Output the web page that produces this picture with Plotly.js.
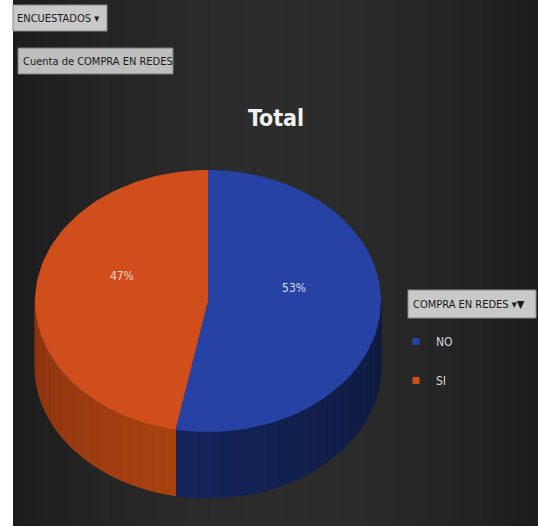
<!DOCTYPE html>
<html>
<head>
<meta charset="utf-8">
<script src="https://cdn.plot.ly/plotly-3.0.1.min.js"></script>
<style>html,body{margin:0;padding:0;background:#fff;}#chart{width:538px;height:526px;}</style>
</head>
<body>
<div id="chart"></div>
<script>
// ---- data ----
const categories = ['NO', 'SI'];
const values = [53, 47];
const legendTitle = 'COMPRA EN REDES';
const chartTitle = 'Total';
const filterLabel = 'ENCUESTADOS';
const fieldLabel = 'Cuenta de COMPRA EN REDES';

// ---- styles ----
const topColors = ['#2642a4', '#cf4e1b'];
const sideColorsFrom = ['#0f1a3c', '#aa4211'];   // colour at slice start angle
const sideColorsTo = ['#14245c', '#8a3311'];     // colour at slice end angle
const labelColors = ['#d4dbf5', '#f3d6c8'];
const FONT = '"DejaVu Sans Condensed", "DejaVu Sans", sans-serif';

// geometry of the 3D pie (pixel space of the hidden axes)
const cx = 208, cy = 301, rx = 173, ry = 131, depth = 66;

function pt(deg, dy) {
  const t = deg * Math.PI / 180;
  return [cx + rx * Math.sin(t), cy - ry * Math.cos(t) + dy];
}
function arc(a, b, dy) {
  const pts = [];
  const n = Math.max(2, Math.ceil(Math.abs(b - a) / 2));
  for (let k = 0; k <= n; k++) pts.push(pt(a + (b - a) * k / n, dy));
  return pts;
}
function hex2rgb(h) { return [1, 3, 5].map(i => parseInt(h.substr(i, 2), 16)); }
function mix(c1, c2, f) {
  const a = hex2rgb(c1), b = hex2rgb(c2);
  return 'rgb(' + a.map((v, i) => Math.round(v + (b[i] - v) * f)).join(',') + ')';
}

const total = values.reduce((s, v) => s + v, 0);
const sideTraces = [], topTraces = [];
const labX = [], labY = [], labT = [];
let start = 0;
values.forEach((v, i) => {
  const sweep = v / total * 360;
  const a = start, b = start + sweep;
  // side wall (front-visible part: 90..270 deg), shaded in bands
  const s = Math.max(a, 90), e = Math.min(b, 270);
  if (e > s) {
    const nb = Math.ceil((e - s) / 4);
    for (let k = 0; k < nb; k++) {
      const s1 = s + (e - s) * k / nb, e1 = s + (e - s) * (k + 1) / nb;
      const up = arc(s1, e1, 0), down = arc(e1, s1, depth);
      const poly = up.concat(down);
      poly.push(up[0]);
      const col = mix(sideColorsFrom[i], sideColorsTo[i], (k + 0.5) / nb);
      sideTraces.push({
        type: 'scatter', mode: 'lines', fill: 'toself',
        x: poly.map(p => p[0]), y: poly.map(p => p[1]),
        line: {width: 1, color: col}, fillcolor: col,
        showlegend: false, hoverinfo: 'skip'
      });
    }
  }
  // top face
  const topPts = [[cx, cy]].concat(arc(a, b, 0));
  topPts.push([cx, cy]);
  topTraces.push({
    type: 'scatter', mode: 'lines', fill: 'toself',
    x: topPts.map(p => p[0]), y: topPts.map(p => p[1]),
    line: {width: 0, color: topColors[i]}, fillcolor: topColors[i],
    showlegend: false, hoverinfo: 'skip'
  });
  const mid = (a + b) / 2;
  const lp = pt(mid, 0);
  labX.push(cx + (lp[0] - cx) * 0.5);
  labY.push(cy + (lp[1] - cy) * 0.5 - 18);
  labT.push(Math.round(v / total * 100) + '%');
  start = b;
});
const traces = [...sideTraces, ...topTraces];
traces.push({
  type: 'scatter', mode: 'text', x: labX, y: labY, text: labT,
  textfont: {family: FONT, size: 12, color: labelColors},
  showlegend: false, hoverinfo: 'skip'
});
categories.forEach((c, i) => {
  traces.push({
    type: 'scatter', mode: 'markers', x: [null], y: [null], name: c,
    legendgroup: c,
    marker: {symbol: 'square', size: 7, color: topColors[i]}
  });
});

// background: horizontal gradient in vertical bands
const shapes = [];
const nBands = 48;
for (let k = 0; k < nBands; k++) {
  const x0 = 13 + (538 - 13) * k / nBands, x1 = 13 + (538 - 13) * (k + 1) / nBands + 0.5;
  const f = Math.abs(((k + 0.5) / nBands) - 0.5) * 2; // 0 centre, 1 edge
  shapes.push({type: 'rect', xref: 'x', yref: 'y', x0: x0, x1: x1, y0: 0, y1: 526,
               fillcolor: mix('#2c2c2c', '#1d1d1d', Math.pow(f, 1.6)), line: {width: 0}, layer: 'below'});
}
shapes.push(
  {type: 'rect', xref: 'x', yref: 'y', x0: 0, x1: 13, y0: 0, y1: 526, fillcolor: '#ffffff', line: {width: 0}, layer: 'below'},
  {type: 'rect', xref: 'x', yref: 'y', x0: 13, x1: 107, y0: 5, y1: 31, fillcolor: '#c9c9c9', line: {width: 1, color: '#8a8a8a'}},
  {type: 'rect', xref: 'x', yref: 'y', x0: 18, x1: 173, y0: 48, y1: 74, fillcolor: '#bfbfbf', line: {width: 1, color: '#7a7a7a'}},
  {type: 'rect', xref: 'x', yref: 'y', x0: 408, x1: 536, y0: 290, y1: 318, fillcolor: '#c9c9c9', line: {width: 1, color: '#8a8a8a'}}
);

const layout = {
  width: 538, height: 526,
  margin: {l: 0, r: 0, t: 0, b: 0},
  paper_bgcolor: '#262626', plot_bgcolor: '#262626',
  xaxis: {range: [0, 538], visible: false, fixedrange: true},
  yaxis: {range: [526, 0], visible: false, fixedrange: true},
  title: {text: chartTitle, x: 276 / 538, xanchor: 'center', y: 1 - 118 / 526, yanchor: 'middle',
          font: {family: FONT, size: 23, color: '#f2f2f2', weight: 'bold'}},
  showlegend: true,
  legend: {x: 396 / 538, xanchor: 'left', y: 1 - 327 / 526, yanchor: 'top',
           bgcolor: 'rgba(0,0,0,0)', traceorder: 'grouped', tracegroupgap: 20,
           font: {family: FONT, size: 12, color: '#d9d9d9'}},
  shapes: shapes,
  annotations: [
    {xref: 'x', yref: 'y', x: 15, y: 18, xanchor: 'left', yanchor: 'middle', showarrow: false,
     text: filterLabel + ' ▾', font: {family: FONT, size: 11, color: '#1a1a1a'}},
    {xref: 'x', yref: 'y', x: 21, y: 61, xanchor: 'left', yanchor: 'middle', showarrow: false,
     text: fieldLabel, font: {family: FONT, size: 11, color: '#1a1a1a'}},
    {xref: 'x', yref: 'y', x: 411, y: 304, xanchor: 'left', yanchor: 'middle', showarrow: false,
     text: legendTitle + ' ▾▼', font: {family: FONT, size: 11, color: '#1a1a1a'}}
  ]
};

Plotly.newPlot('chart', traces, layout, {displayModeBar: false, staticPlot: true});
</script>
</body>
</html>
